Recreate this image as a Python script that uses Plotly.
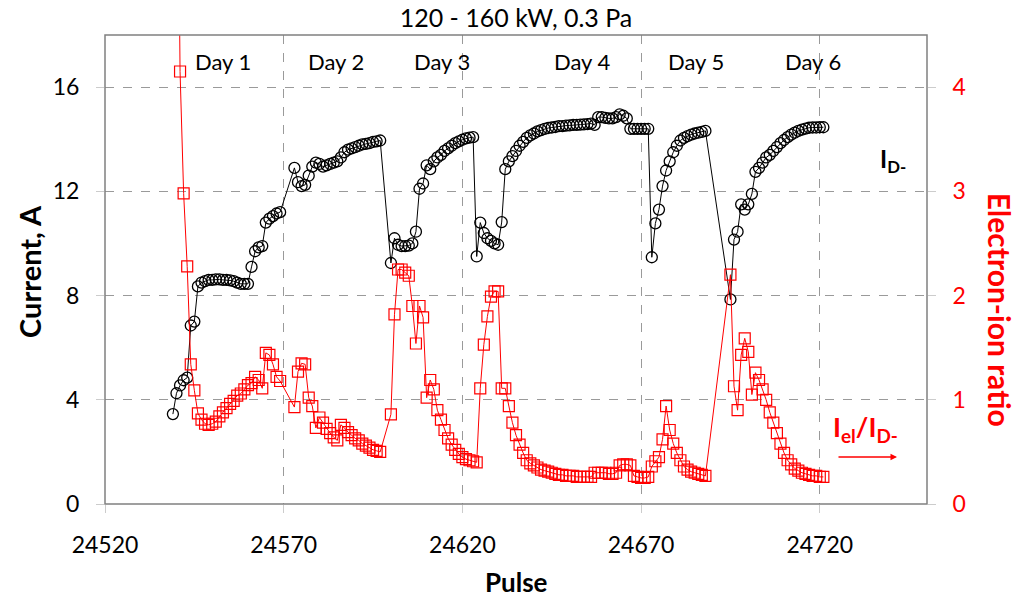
import plotly.graph_objects as go

# Pulse numbers of each recorded run (consecutive pulses, with breaks between runs)
pulse = (list(range(24539, 24570)) + list(range(24573, 24598)) +
         list(range(24600, 24673)) + list(range(24673, 24689)) +
         list(range(24695, 24722)))

# Discharge current I_D- (A)
current = [
    # 24539-24569
    3.45, 4.25, 4.55, 4.75, 4.85, 6.85, 7.0, 8.35, 8.5, 8.55,
    8.6, 8.6, 8.62, 8.62, 8.6, 8.6, 8.58, 8.55, 8.5, 8.45,
    8.45, 8.45, 9.1, 9.7, 9.85, 9.9, 10.8, 10.95, 11.05, 11.15, 11.2,
    # 24573-24597
    12.9, 12.35, 12.2, 12.25, 12.6, 12.95, 13.1, 13.05, 12.95, 13.0,
    13.05, 13.1, 13.15, 13.3, 13.5, 13.6, 13.65, 13.7, 13.75, 13.8,
    13.82, 13.85, 13.9, 13.92, 13.95,
    # 24600-24672
    9.25, 10.2, 9.95, 9.9, 9.9, 9.92, 10.0, 10.45, 12.1, 12.3,
    13.0, 12.85, 13.15, 13.3, 13.4, 13.55, 13.65, 13.75, 13.85, 13.92,
    13.98, 14.03, 14.06, 14.08, 9.5, 10.8, 10.4, 10.2, 10.1, 10.0,
    9.95, 10.82, 12.85, 13.15, 13.35, 13.55, 13.75, 13.9, 14.05, 14.15,
    14.22, 14.3, 14.35, 14.4, 14.43, 14.45, 14.47, 14.5, 14.5, 14.52,
    14.53, 14.55, 14.55, 14.56, 14.57, 14.58, 14.6, 14.55, 14.85, 14.85,
    14.82, 14.8, 14.8, 14.85, 14.95, 14.9, 14.8, 14.4, 14.4, 14.4,
    14.4, 14.4, 14.4,
    # 24673-24688
    9.47, 10.77, 11.3, 12.2, 12.8, 13.15, 13.5, 13.75, 13.95, 14.05,
    14.12, 14.18, 14.22, 14.25, 14.28, 14.32,
    # 24695-24721
    7.85, 10.15, 10.45, 11.5, 11.3, 11.5, 11.9, 12.75, 12.9, 13.1,
    13.3, 13.4, 13.55, 13.7, 13.85, 13.97, 14.08, 14.18, 14.25, 14.32,
    14.37, 14.41, 14.44, 14.45, 14.45, 14.46, 14.46,
]

# Electron-ion ratio I_el / I_D-
ratio = [
    # 24539-24569
    14.0, 8.0, 4.15, 2.98, 2.28, 1.34, 1.09, 0.87, 0.81, 0.77,
    0.76, 0.77, 0.79, 0.84, 0.88, 0.92, 0.96, 0.99, 1.04, 1.06,
    1.10, 1.14, 1.16, 1.22, 1.19, 1.11, 1.45, 1.43, 1.34, 1.22, 1.18,
    # 24573-24597
    0.93, 1.27, 1.35, 1.34, 1.02, 0.94, 0.73, 0.83, 0.78, 0.72,
    0.68, 0.64, 0.61, 0.76, 0.73, 0.69, 0.66, 0.63, 0.61, 0.58,
    0.56, 0.54, 0.52, 0.51, 0.50,
    # 24600-24672
    0.86, 1.82, 2.25, 2.25, 2.22, 2.19, 1.90, 1.54, 1.90, 1.79,
    1.02, 1.19, 1.10, 0.90, 0.81, 0.71, 0.63, 0.57, 0.52, 0.48,
    0.45, 0.43, 0.42, 0.41, 0.40, 1.11, 1.53, 1.80, 1.99, 2.04,
    2.04, 1.11, 1.11, 0.94, 0.78, 0.66, 0.57, 0.49, 0.42, 0.39,
    0.37, 0.35, 0.33, 0.32, 0.31, 0.30, 0.29, 0.28, 0.28, 0.27,
    0.27, 0.27, 0.26, 0.26, 0.26, 0.26, 0.26, 0.30, 0.30, 0.30,
    0.30, 0.29, 0.29, 0.30, 0.37, 0.38, 0.38, 0.37, 0.27, 0.26,
    0.25, 0.25, 0.26,
    # 24673-24688
    0.36, 0.41, 0.45, 0.62, 0.94, 0.71, 0.58, 0.49, 0.42, 0.36,
    0.33, 0.31, 0.30, 0.29, 0.28, 0.27,
    # 24695-24721
    2.20, 1.13, 0.90, 1.43, 1.59, 1.46, 1.05, 1.26, 1.19, 1.10,
    1.00, 0.88, 0.78, 0.68, 0.58, 0.49, 0.42, 0.38, 0.34, 0.32,
    0.30, 0.29, 0.28, 0.27, 0.27, 0.26, 0.26,
]

x_ticks = [24520, 24570, 24620, 24670, 24720]
y_ticks = [0, 4, 8, 12, 16]
y2_ticks = [0, 1, 2, 3, 4]

day_labels = ["Day 1", "Day 2", "Day 3", "Day 4", "Day 5", "Day 6"]
day_pulse = [24553.1, 24584.5, 24614.4, 24653.7, 24685.3, 24718.0]
day_level = 17.0

FONT = "Lato"
RED = "#ff0000"
GRID = "#9a9a9a"
TICKC = "#cccccc"

fig = go.Figure()
fig.add_trace(go.Scatter(
    x=pulse, y=current, mode="lines+markers", name="I_D-",
    line=dict(color="black", width=1),
    marker=dict(symbol="circle-open", size=11, color="black",
                line=dict(width=1.3, color="black")),
))
fig.add_trace(go.Scatter(
    x=pulse, y=ratio, mode="lines+markers", name="I_el/I_D-", yaxis="y2",
    line=dict(color=RED, width=1),
    marker=dict(symbol="square-open", size=11, color=RED,
                line=dict(width=1.2, color=RED)),
))


def label(x, y, text, size, color="black", angle=0, xref="paper", yref="paper"):
    return dict(x=x, y=y, xref=xref, yref=yref, text=text, textangle=angle,
                xanchor="center", yanchor="middle", showarrow=False,
                font=dict(family=FONT, size=size, color=color))


annotations = [label(xp, day_level, name, 22, xref="x", yref="y")
               for name, xp in zip(day_labels, day_pulse)]

annotations += [
    label(-0.0912, 0.495, "<b>Current, A</b>", 29, angle=-90),
    label(0.5, -0.166, "<b>Pulse</b>", 26),
    label(1.089, 0.414, "<b>Electron-ion ratio</b>", 30, color=RED, angle=90),
    label(0.9586, 0.733, "<b>I<sub>D-</sub></b>", 24),
    label(0.9246, 0.162, "<b>I<sub>el</sub>/I<sub>D-</sub></b>", 27, color=RED),
    dict(x=0.9635, y=0.1002, xref="paper", yref="paper", text="",
         showarrow=True, ax=-60, ay=0, axref="pixel", ayref="pixel",
         arrowhead=2, arrowsize=1, arrowwidth=1.3, arrowcolor=RED),
]

fig.update_layout(
    width=1022, height=599,
    margin=dict(l=105, r=95, t=35, b=95),
    paper_bgcolor="white", plot_bgcolor="white",
    showlegend=False,
    font=dict(family=FONT, color="black"),
    title=dict(text="120 - 160 kW, 0.3 Pa", x=0.5, xref="paper", xanchor="center",
               y=1 - 18 / 599, yref="container", yanchor="middle",
               font=dict(family=FONT, size=25, color="black")),
    xaxis=dict(range=[24520, 24750], tickvals=x_ticks, tickformat="d", showgrid=True,
               gridcolor=GRID, griddash="dash", gridwidth=1, zeroline=False,
               showline=False, ticks="outside", ticklen=8, tickcolor=TICKC,
               ticklabelstandoff=12, tickfont=dict(family=FONT, size=23, color="black")),
    yaxis=dict(range=[0, 18], tickvals=y_ticks, showgrid=True,
               gridcolor=GRID, griddash="dash", gridwidth=1, zeroline=False,
               showline=False, ticks="outside", ticklen=8, tickcolor=TICKC,
               ticklabelstandoff=12, tickfont=dict(family=FONT, size=23, color="black")),
    yaxis2=dict(range=[0, 4.5], tickvals=y2_ticks, overlaying="y", side="right",
                showgrid=False, zeroline=False, showline=False,
                ticks="outside", ticklen=8, tickcolor=TICKC,
                ticklabelstandoff=12, tickfont=dict(family=FONT, size=23, color=RED)),
    annotations=annotations,
    shapes=[dict(type="rect", xref="paper", yref="paper", x0=0, y0=0, x1=1, y1=1,
                 line=dict(color="#808080", width=1.5), layer="above")],
)

fig.write_html("out.html")
